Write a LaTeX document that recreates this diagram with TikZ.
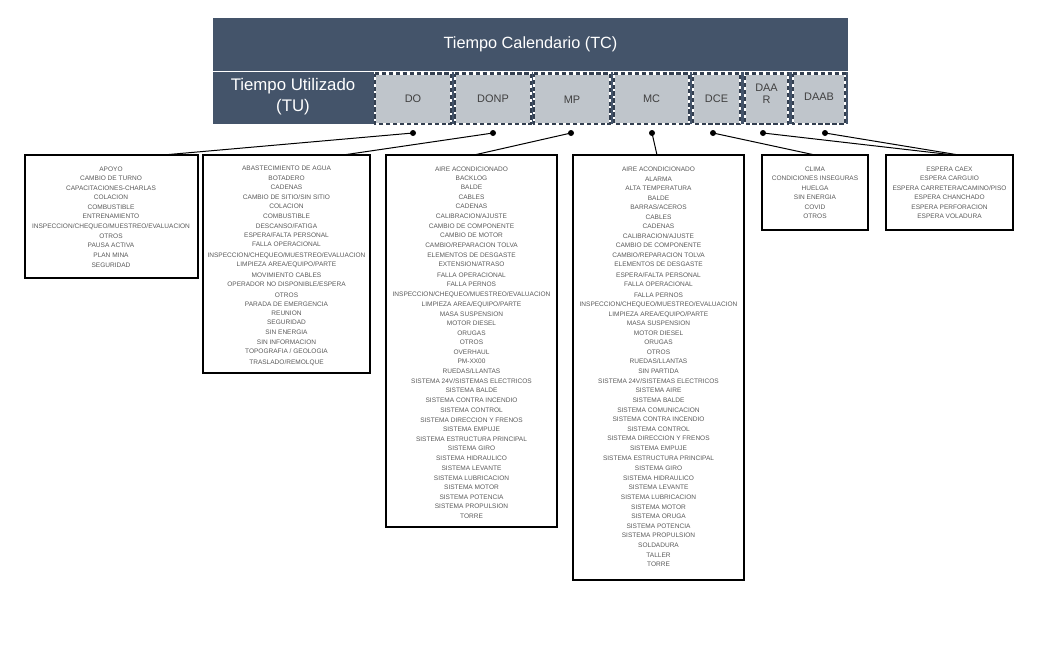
\documentclass[tikz,border=0pt]{standalone}
\usepackage{fontspec}
\setmainfont{Liberation Sans}

\definecolor{hdrcol}{RGB}{68,84,106}
\definecolor{cbfill}{RGB}{191,197,203}
\definecolor{cbdash}{RGB}{51,63,80}
\definecolor{cbtext}{RGB}{64,64,64}
\definecolor{itemcol}{RGB}{89,89,89}

\tikzset{every picture/.style={line width=0.75pt}}
\tikzset{
  itemtxt/.style={anchor=center, inner sep=0.75pt, text height=3.5pt, text depth=0pt,
    text=itemcol, font=\fontsize{4.9}{5.9}\selectfont},
  codebox/.style={fill=cbfill, draw=white, line width=1.8pt,
    postaction={draw=cbdash, line width=1.8pt, dash pattern=on 3.2pt off 2pt}},
  codetxt/.style={anchor=center, inner sep=0.75pt, align=center, text=cbtext,
    font=\fontsize{8.2}{9}\selectfont},
  listbox/.style={draw=black, line width=1.5pt},
  pin/.style={circle, fill=black, inner sep=0pt, minimum size=4.5pt},
  link/.style={draw=black, line width=0.75pt}
}

\begin{document}
\begin{tikzpicture}[x=0.75pt,y=0.75pt,yscale=-1,xscale=1]
\useasboundingbox (0,0) rectangle (1045,644);

%Shape: Rectangle [header TC]
\draw [draw=none, fill=hdrcol] (213,18) -- (848,18) -- (848,70.5) -- (213,70.5) -- cycle ;
%Shape: Rectangle [header TU row]
\draw [draw=none, fill=hdrcol] (213,71.5) -- (848,71.5) -- (848,124) -- (213,124) -- cycle ;
%Shape: Rectangle [DO]
\draw [codebox] (375,73.5) -- (451,73.5) -- (451,124) -- (375,124) -- cycle ;
%Shape: Rectangle [DONP]
\draw [codebox] (455,73.5) -- (531,73.5) -- (531,124) -- (455,124) -- cycle ;
%Shape: Rectangle [MP]
\draw [codebox] (534,73.5) -- (610,73.5) -- (610,124) -- (534,124) -- cycle ;
%Shape: Rectangle [MC]
\draw [codebox] (614,73.5) -- (689,73.5) -- (689,124) -- (614,124) -- cycle ;
%Shape: Rectangle [DCE]
\draw [codebox] (693,73.5) -- (740,73.5) -- (740,124) -- (693,124) -- cycle ;
%Shape: Rectangle [DAAR]
\draw [codebox] (745,73.5) -- (788,73.5) -- (788,124) -- (745,124) -- cycle ;
%Shape: Rectangle [DAAB]
\draw [codebox] (793,73.5) -- (845,73.5) -- (845,124) -- (793,124) -- cycle ;

%Shape: Rectangle [list DO]
\draw [listbox] (25,155) -- (198,155) -- (198,278) -- (25,278) -- cycle ;
%Shape: Rectangle [list DONP]
\draw [listbox] (203,155) -- (370,155) -- (370,373) -- (203,373) -- cycle ;
%Shape: Rectangle [list MP]
\draw [listbox] (386,155) -- (557,155) -- (557,527) -- (386,527) -- cycle ;
%Shape: Rectangle [list MC]
\draw [listbox] (573,155) -- (744,155) -- (744,580) -- (573,580) -- cycle ;
%Shape: Rectangle [list DCE]
\draw [listbox] (762,155) -- (868,155) -- (868,230) -- (762,230) -- cycle ;
%Shape: Rectangle [list DAAR/DAAB]
\draw [listbox] (886,155) -- (1013,155) -- (1013,230) -- (886,230) -- cycle ;

% Header Text
\draw (530.5,44) node [anchor=center][inner sep=0.75pt] [text=white, font=\fontsize{12.2}{14}\selectfont] (tc) {Tiempo Calendario (TC)};
% Header Text
\draw (293,97) node [anchor=center][inner sep=0.75pt] [align=center, text=white, font=\fontsize{12.6}{15.6}\selectfont] (tu) {Tiempo Utilizado\\(TU)};
% Code Text
\draw (413,98.5) node [codetxt] (cDO) {DO};
% Code Text
\draw (493,98.5) node [codetxt] (cDONP) {DONP};
% Code Text
\draw (572,99.5) node [codetxt] (cMP) {MP};
% Code Text
\draw (651.5,98.5) node [codetxt] (cMC) {MC};
% Code Text
\draw (716.5,98.5) node [codetxt] (cDCE) {DCE};
% Code Text
\draw (766.5,94) node [codetxt] (cDAAR) {DAA\\R};
% Code Text
\draw (819,96.5) node [codetxt] (cDAAB) {DAAB};

% Pins and connectors
\node [pin] (pDO) at (413,133) {};
\node [pin] (pDONP) at (493,133) {};
\node [pin] (pMP) at (571,133) {};
\node [pin] (pMC) at (652,133) {};
\node [pin] (pDCE) at (713,133) {};
\node [pin] (pDAAR) at (763,133) {};
\node [pin] (pDAAB) at (825,133) {};
\coordinate (tDO) at (163,155);
\coordinate (tDONP) at (343,155);
\coordinate (tMP) at (474,155);
\coordinate (tMC) at (657,155);
\coordinate (tDCE) at (815,155);
\coordinate (tDAAR) at (954,155);
\coordinate (tDAAB) at (959,155);
\draw [link] (pDO.center) -- (tDO) ;
\draw [link] (pDONP.center) -- (tDONP) ;
\draw [link] (pMP.center) -- (tMP) ;
\draw [link] (pMC.center) -- (tMC) ;
\draw [link] (pDCE.center) -- (tDCE) ;
\draw [link] (pDAAR.center) -- (tDAAR) ;
\draw [link] (pDAAB.center) -- (tDAAB) ;

% Text Node
\draw (111,169) node [itemtxt] (do1) {APOYO};
% Text Node
\draw (111,178) node [itemtxt] (do2) {CAMBIO DE TURNO};
% Text Node
\draw (111,188) node [itemtxt] (do3) {CAPACITACIONES-CHARLAS};
% Text Node
\draw (111,197) node [itemtxt] (do4) {COLACION};
% Text Node
\draw (111,207) node [itemtxt] (do5) {COMBUSTIBLE};
% Text Node
\draw (111,216) node [itemtxt] (do6) {ENTRENAMIENTO};
% Text Node
\draw (111,226) node [itemtxt] (do7) {INSPECCION/CHEQUEO/MUESTREO/EVALUACION};
% Text Node
\draw (111,236) node [itemtxt] (do8) {OTROS};
% Text Node
\draw (111,245) node [itemtxt] (do9) {PAUSA ACTIVA};
% Text Node
\draw (111,255) node [itemtxt] (do10) {PLAN MINA};
% Text Node
\draw (111,265) node [itemtxt] (do11) {SEGURIDAD};

% Text Node
\draw (286.5,168) node [itemtxt] (dn1) {ABASTECIMIENTO DE AGUA};
% Text Node
\draw (286.5,178) node [itemtxt] (dn2) {BOTADERO};
% Text Node
\draw (286.5,187) node [itemtxt] (dn3) {CADENAS};
% Text Node
\draw (286.5,197) node [itemtxt] (dn4) {CAMBIO DE SITIO/SIN SITIO};
% Text Node
\draw (286.5,206) node [itemtxt] (dn5) {COLACION};
% Text Node
\draw (286.5,216) node [itemtxt] (dn6) {COMBUSTIBLE};
% Text Node
\draw (286.5,226) node [itemtxt] (dn7) {DESCANSO/FATIGA};
% Text Node
\draw (286.5,235) node [itemtxt] (dn8) {ESPERA/FALTA PERSONAL};
% Text Node
\draw (286.5,244) node [itemtxt] (dn9) {FALLA OPERACIONAL};
% Text Node
\draw (286.5,255) node [itemtxt] (dn10) {INSPECCION/CHEQUEO/MUESTREO/EVALUACION};
% Text Node
\draw (286.5,264) node [itemtxt] (dn11) {LIMPIEZA AREA/EQUIPO/PARTE};
% Text Node
\draw (286.5,275) node [itemtxt] (dn12) {MOVIMIENTO CABLES};
% Text Node
\draw (286.5,284) node [itemtxt] (dn13) {OPERADOR NO DISPONIBLE/ESPERA};
% Text Node
\draw (286.5,295) node [itemtxt] (dn14) {OTROS};
% Text Node
\draw (286.5,304) node [itemtxt] (dn15) {PARADA DE EMERGENCIA};
% Text Node
\draw (286.5,313) node [itemtxt] (dn16) {REUNION};
% Text Node
\draw (286.5,322) node [itemtxt] (dn17) {SEGURIDAD};
% Text Node
\draw (286.5,332) node [itemtxt] (dn18) {SIN ENERGIA};
% Text Node
\draw (286.5,342) node [itemtxt] (dn19) {SIN INFORMACION};
% Text Node
\draw (286.5,351) node [itemtxt] (dn20) {TOPOGRAFIA / GEOLOGIA};
% Text Node
\draw (286.5,362) node [itemtxt] (dn21) {TRASLADO/REMOLQUE};

% Text Node
\draw (471.5,169) node [itemtxt] (mp1) {AIRE ACONDICIONADO};
% Text Node
\draw (471.5,178) node [itemtxt] (mp2) {BACKLOG};
% Text Node
\draw (471.5,187) node [itemtxt] (mp3) {BALDE};
% Text Node
\draw (471.5,197) node [itemtxt] (mp4) {CABLES};
% Text Node
\draw (471.5,206) node [itemtxt] (mp5) {CADENAS};
% Text Node
\draw (471.5,216) node [itemtxt] (mp6) {CALIBRACION/AJUSTE};
% Text Node
\draw (471.5,226) node [itemtxt] (mp7) {CAMBIO DE COMPONENTE};
% Text Node
\draw (471.5,235) node [itemtxt] (mp8) {CAMBIO DE MOTOR};
% Text Node
\draw (471.5,245) node [itemtxt] (mp9) {CAMBIO/REPARACION TOLVA};
% Text Node
\draw (471.5,255) node [itemtxt] (mp10) {ELEMENTOS DE DESGASTE};
% Text Node
\draw (471.5,264) node [itemtxt] (mp11) {EXTENSION/ATRASO};
% Text Node
\draw (471.5,275) node [itemtxt] (mp12) {FALLA OPERACIONAL};
% Text Node
\draw (471.5,284) node [itemtxt] (mp13) {FALLA PERNOS};
% Text Node
\draw (471.5,294) node [itemtxt] (mp14) {INSPECCION/CHEQUEO/MUESTREO/EVALUACION};
% Text Node
\draw (471.5,304) node [itemtxt] (mp15) {LIMPIEZA AREA/EQUIPO/PARTE};
% Text Node
\draw (471.5,314) node [itemtxt] (mp16) {MASA SUSPENSION};
% Text Node
\draw (471.5,323) node [itemtxt] (mp17) {MOTOR DIESEL};
% Text Node
\draw (471.5,333) node [itemtxt] (mp18) {ORUGAS};
% Text Node
\draw (471.5,342) node [itemtxt] (mp19) {OTROS};
% Text Node
\draw (471.5,352) node [itemtxt] (mp20) {OVERHAUL};
% Text Node
\draw (471.5,361) node [itemtxt] (mp21) {PM-XX00};
% Text Node
\draw (471.5,371) node [itemtxt] (mp22) {RUEDAS/LLANTAS};
% Text Node
\draw (471.5,381) node [itemtxt] (mp23) {SISTEMA 24V/SISTEMAS ELECTRICOS};
% Text Node
\draw (471.5,390) node [itemtxt] (mp24) {SISTEMA BALDE};
% Text Node
\draw (471.5,400) node [itemtxt] (mp25) {SISTEMA CONTRA INCENDIO};
% Text Node
\draw (471.5,410) node [itemtxt] (mp26) {SISTEMA CONTROL};
% Text Node
\draw (471.5,420) node [itemtxt] (mp27) {SISTEMA DIRECCION Y FRENOS};
% Text Node
\draw (471.5,429) node [itemtxt] (mp28) {SISTEMA EMPUJE};
% Text Node
\draw (471.5,439) node [itemtxt] (mp29) {SISTEMA ESTRUCTURA PRINCIPAL};
% Text Node
\draw (471.5,448) node [itemtxt] (mp30) {SISTEMA GIRO};
% Text Node
\draw (471.5,458) node [itemtxt] (mp31) {SISTEMA HIDRAULICO};
% Text Node
\draw (471.5,468) node [itemtxt] (mp32) {SISTEMA LEVANTE};
% Text Node
\draw (471.5,478) node [itemtxt] (mp33) {SISTEMA LUBRICACION};
% Text Node
\draw (471.5,487) node [itemtxt] (mp34) {SISTEMA MOTOR};
% Text Node
\draw (471.5,497) node [itemtxt] (mp35) {SISTEMA POTENCIA};
% Text Node
\draw (471.5,506) node [itemtxt] (mp36) {SISTEMA PROPULSION};
% Text Node
\draw (471.5,516) node [itemtxt] (mp37) {TORRE};

% Text Node
\draw (658.5,169) node [itemtxt] (mc1) {AIRE ACONDICIONADO};
% Text Node
\draw (658.5,179) node [itemtxt] (mc2) {ALARMA};
% Text Node
\draw (658.5,188) node [itemtxt] (mc3) {ALTA TEMPERATURA};
% Text Node
\draw (658.5,198) node [itemtxt] (mc4) {BALDE};
% Text Node
\draw (658.5,207) node [itemtxt] (mc5) {BARRAS/ACEROS};
% Text Node
\draw (658.5,217) node [itemtxt] (mc6) {CABLES};
% Text Node
\draw (658.5,226) node [itemtxt] (mc7) {CADENAS};
% Text Node
\draw (658.5,236) node [itemtxt] (mc8) {CALIBRACION/AJUSTE};
% Text Node
\draw (658.5,245) node [itemtxt] (mc9) {CAMBIO DE COMPONENTE};
% Text Node
\draw (658.5,255) node [itemtxt] (mc10) {CAMBIO/REPARACION TOLVA};
% Text Node
\draw (658.5,264) node [itemtxt] (mc11) {ELEMENTOS DE DESGASTE};
% Text Node
\draw (658.5,275) node [itemtxt] (mc12) {ESPERA/FALTA PERSONAL};
% Text Node
\draw (658.5,284) node [itemtxt] (mc13) {FALLA OPERACIONAL};
% Text Node
\draw (658.5,295) node [itemtxt] (mc14) {FALLA PERNOS};
% Text Node
\draw (658.5,304) node [itemtxt] (mc15) {INSPECCION/CHEQUEO/MUESTREO/EVALUACION};
% Text Node
\draw (658.5,314) node [itemtxt] (mc16) {LIMPIEZA AREA/EQUIPO/PARTE};
% Text Node
\draw (658.5,323) node [itemtxt] (mc17) {MASA SUSPENSION};
% Text Node
\draw (658.5,333) node [itemtxt] (mc18) {MOTOR DIESEL};
% Text Node
\draw (658.5,342) node [itemtxt] (mc19) {ORUGAS};
% Text Node
\draw (658.5,352) node [itemtxt] (mc20) {OTROS};
% Text Node
\draw (658.5,361) node [itemtxt] (mc21) {RUEDAS/LLANTAS};
% Text Node
\draw (658.5,371) node [itemtxt] (mc22) {SIN PARTIDA};
% Text Node
\draw (658.5,381) node [itemtxt] (mc23) {SISTEMA 24V/SISTEMAS ELECTRICOS};
% Text Node
\draw (658.5,390) node [itemtxt] (mc24) {SISTEMA AIRE};
% Text Node
\draw (658.5,400) node [itemtxt] (mc25) {SISTEMA BALDE};
% Text Node
\draw (658.5,410) node [itemtxt] (mc26) {SISTEMA COMUNICACION};
% Text Node
\draw (658.5,419) node [itemtxt] (mc27) {SISTEMA CONTRA INCENDIO};
% Text Node
\draw (658.5,429) node [itemtxt] (mc28) {SISTEMA CONTROL};
% Text Node
\draw (658.5,438) node [itemtxt] (mc29) {SISTEMA DIRECCION Y FRENOS};
% Text Node
\draw (658.5,448) node [itemtxt] (mc30) {SISTEMA EMPUJE};
% Text Node
\draw (658.5,458) node [itemtxt] (mc31) {SISTEMA ESTRUCTURA PRINCIPAL};
% Text Node
\draw (658.5,468) node [itemtxt] (mc32) {SISTEMA GIRO};
% Text Node
\draw (658.5,478) node [itemtxt] (mc33) {SISTEMA HIDRAULICO};
% Text Node
\draw (658.5,487) node [itemtxt] (mc34) {SISTEMA LEVANTE};
% Text Node
\draw (658.5,497) node [itemtxt] (mc35) {SISTEMA LUBRICACION};
% Text Node
\draw (658.5,507) node [itemtxt] (mc36) {SISTEMA MOTOR};
% Text Node
\draw (658.5,516) node [itemtxt] (mc37) {SISTEMA ORUGA};
% Text Node
\draw (658.5,526) node [itemtxt] (mc38) {SISTEMA POTENCIA};
% Text Node
\draw (658.5,535) node [itemtxt] (mc39) {SISTEMA PROPULSION};
% Text Node
\draw (658.5,545) node [itemtxt] (mc40) {SOLDADURA};
% Text Node
\draw (658.5,555) node [itemtxt] (mc41) {TALLER};
% Text Node
\draw (658.5,564) node [itemtxt] (mc42) {TORRE};

% Text Node
\draw (815,169) node [itemtxt] (dce1) {CLIMA};
% Text Node
\draw (815,178) node [itemtxt] (dce2) {CONDICIONES INSEGURAS};
% Text Node
\draw (815,188) node [itemtxt] (dce3) {HUELGA};
% Text Node
\draw (815,197) node [itemtxt] (dce4) {SIN ENERGIA};
% Text Node
\draw (815,207) node [itemtxt] (dce5) {COVID};
% Text Node
\draw (815,216) node [itemtxt] (dce6) {OTROS};

% Text Node
\draw (949.5,169) node [itemtxt] (da1) {ESPERA CAEX};
% Text Node
\draw (949.5,178) node [itemtxt] (da2) {ESPERA CARGUIO};
% Text Node
\draw (949.5,188) node [itemtxt] (da3) {ESPERA CARRETERA/CAMINO/PISO};
% Text Node
\draw (949.5,197) node [itemtxt] (da4) {ESPERA CHANCHADO};
% Text Node
\draw (949.5,207) node [itemtxt] (da5) {ESPERA PERFORACION};
% Text Node
\draw (949.5,216) node [itemtxt] (da6) {ESPERA VOLADURA};

\end{tikzpicture}
\end{document}
